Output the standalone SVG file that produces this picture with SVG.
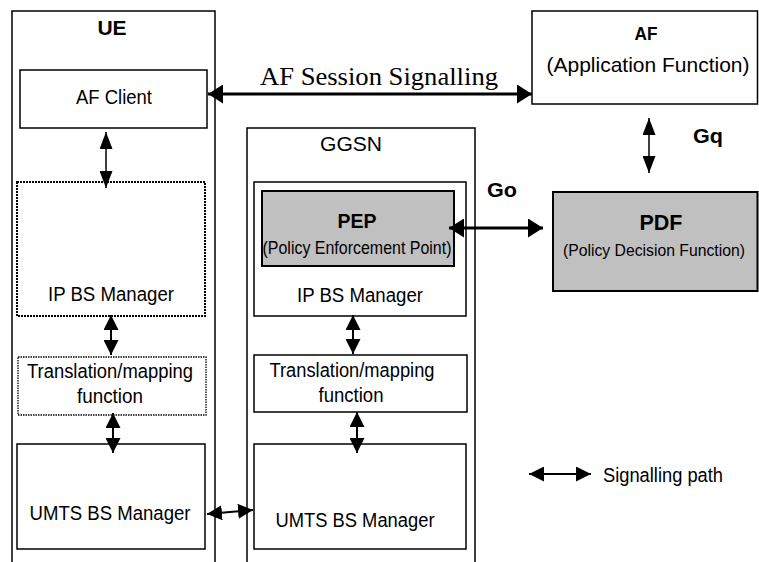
<svg xmlns="http://www.w3.org/2000/svg" width="759" height="562" viewBox="0 0 759 562">
<style>
  .box{fill:#fff;stroke:#000;stroke-width:1.5}
  .gray{fill:#c0c0c0;stroke:#000;stroke-width:2}
  .dot{fill:#fff;stroke:#000;stroke-width:2;stroke-dasharray:2 1}
  .dot2{fill:#fff;stroke:#000;stroke-width:1.3;stroke-dasharray:1.5 1}
  text{font-family:"Liberation Sans",Arial,sans-serif;fill:#000;text-anchor:middle}
  .t{font-size:20px}
  .s{font-size:17.5px}
  .b{font-size:21px;font-weight:bold}
  .serif{font-family:"Liberation Serif","Times New Roman",serif;font-size:26px}
  .ln{fill:none;stroke:#000}
  .thick{stroke-width:3;marker-start:url(#big);marker-end:url(#big)}
  .mid{stroke-width:2;marker-start:url(#mid);marker-end:url(#mid)}
  .thin{stroke-width:1.5;marker-start:url(#small);marker-end:url(#small)}
</style>
<defs>
  <marker id="big" viewBox="0 0 15 19" refX="15" refY="9.5" markerWidth="15" markerHeight="19" markerUnits="userSpaceOnUse" orient="auto-start-reverse"><path d="M0,0 L15,9.5 L0,19 z" fill="#000"/></marker>
  <marker id="mid" viewBox="0 0 15 15" refX="15" refY="7.5" markerWidth="15" markerHeight="15" markerUnits="userSpaceOnUse" orient="auto-start-reverse"><path d="M0,0 L15,7.5 L0,15 z" fill="#000"/></marker>
  <marker id="small" viewBox="0 0 17 13" refX="17" refY="6.5" markerWidth="17" markerHeight="13" markerUnits="userSpaceOnUse" orient="auto-start-reverse"><path d="M0,0 L17,6.5 L0,13 z" fill="#000"/></marker>
</defs>

<g id="ue">
  <path class="ln" stroke-width="1.5" d="M12,570 V11 H215 V570"/>
  <text class="b" x="112" y="35">UE</text>
</g>
<g id="af-client">
  <rect class="box" x="20" y="70" width="187" height="58"/>
  <text class="t" x="114" y="104" textLength="76" lengthAdjust="spacingAndGlyphs">AF Client</text>
</g>
<g id="ue-ip-bs-manager">
  <rect class="dot" x="17" y="182" width="188" height="134"/>
  <text class="t" x="111" y="301" textLength="126" lengthAdjust="spacingAndGlyphs">IP BS Manager</text>
</g>
<g id="ue-translation">
  <rect class="dot2" x="18" y="357" width="188" height="58"/>
  <text class="t" x="110" y="378" textLength="166" lengthAdjust="spacingAndGlyphs">Translation/mapping</text>
  <text class="t" x="110" y="403" textLength="66" lengthAdjust="spacingAndGlyphs">function</text>
</g>
<g id="ue-umts-bs-manager">
  <rect class="box" x="17" y="444" width="188" height="105"/>
  <text class="t" x="110" y="520" textLength="161" lengthAdjust="spacingAndGlyphs">UMTS BS Manager</text>
</g>

<g id="ggsn">
  <path class="ln" stroke-width="1.5" d="M247,570 V128 H475 V570"/>
  <text class="t" x="351" y="151" style="font-size:21px" textLength="62" lengthAdjust="spacingAndGlyphs">GGSN</text>
</g>
<g id="ggsn-ip-bs-manager">
  <rect class="box" x="254" y="182" width="212" height="134" stroke-width="2"/>
  <text class="t" x="360" y="302" textLength="126" lengthAdjust="spacingAndGlyphs">IP BS Manager</text>
</g>
<g id="pep">
  <rect class="gray" x="262" y="191" width="192" height="75"/>
  <text class="b" x="357" y="228" textLength="39" lengthAdjust="spacingAndGlyphs">PEP</text>
  <text class="s" x="357" y="254" textLength="189" lengthAdjust="spacingAndGlyphs">(Policy Enforcement Point)</text>
</g>
<g id="ggsn-translation">
  <rect class="box" x="254" y="355" width="213" height="57"/>
  <text class="t" x="352" y="377" textLength="165" lengthAdjust="spacingAndGlyphs">Translation/mapping</text>
  <text class="t" x="351" y="402" textLength="65" lengthAdjust="spacingAndGlyphs">function</text>
</g>
<g id="ggsn-umts-bs-manager">
  <rect class="box" x="254" y="444" width="212" height="105" stroke-width="2"/>
  <text class="t" x="355" y="527" textLength="159" lengthAdjust="spacingAndGlyphs">UMTS BS Manager</text>
</g>

<g id="af">
  <rect class="box" x="532" y="11" width="225.5" height="93"/>
  <text class="b" x="646" y="40" style="font-size:18px" textLength="23" lengthAdjust="spacingAndGlyphs">AF</text>
  <text class="t" x="648" y="72" style="font-size:21px" textLength="203" lengthAdjust="spacingAndGlyphs">(Application Function)</text>
</g>
<g id="pdf">
  <rect class="gray" x="553" y="192" width="204.5" height="99"/>
  <text class="b" x="661" y="230" style="font-size:22px" textLength="43" lengthAdjust="spacingAndGlyphs">PDF</text>
  <text x="654" y="256" style="font-size:16.5px" textLength="182" lengthAdjust="spacingAndGlyphs">(Policy Decision Function)</text>
</g>

<g id="connectors">
  <line class="ln thick" x1="208" y1="94" x2="532" y2="94"/>
  <line class="ln thin" x1="106" y1="132" x2="106" y2="188"/>
  <line class="ln mid" x1="111" y1="315" x2="111" y2="355"/>
  <line class="ln mid" x1="113" y1="413" x2="113" y2="453"/>
  <line class="ln mid" x1="207" y1="514" x2="253" y2="510"/>
  <line class="ln mid" x1="353" y1="315" x2="353" y2="354"/>
  <line class="ln mid" x1="357" y1="412" x2="357" y2="453"/>
  <line class="ln thick" x1="449" y1="228" x2="543" y2="228"/>
  <line class="ln thin" x1="649" y1="118" x2="649" y2="173"/>
  <line class="ln mid" x1="529" y1="474" x2="591" y2="474"/>
</g>

<g id="labels">
  <text class="serif" x="379" y="85" textLength="238" lengthAdjust="spacingAndGlyphs">AF Session Signalling</text>
  <text class="b" x="502" y="197" textLength="30" lengthAdjust="spacingAndGlyphs">Go</text>
  <text class="b" x="708" y="143" textLength="30" lengthAdjust="spacingAndGlyphs">Gq</text>
  <text class="t" x="663" y="482" textLength="120" lengthAdjust="spacingAndGlyphs">Signalling path</text>
</g>
</svg>
